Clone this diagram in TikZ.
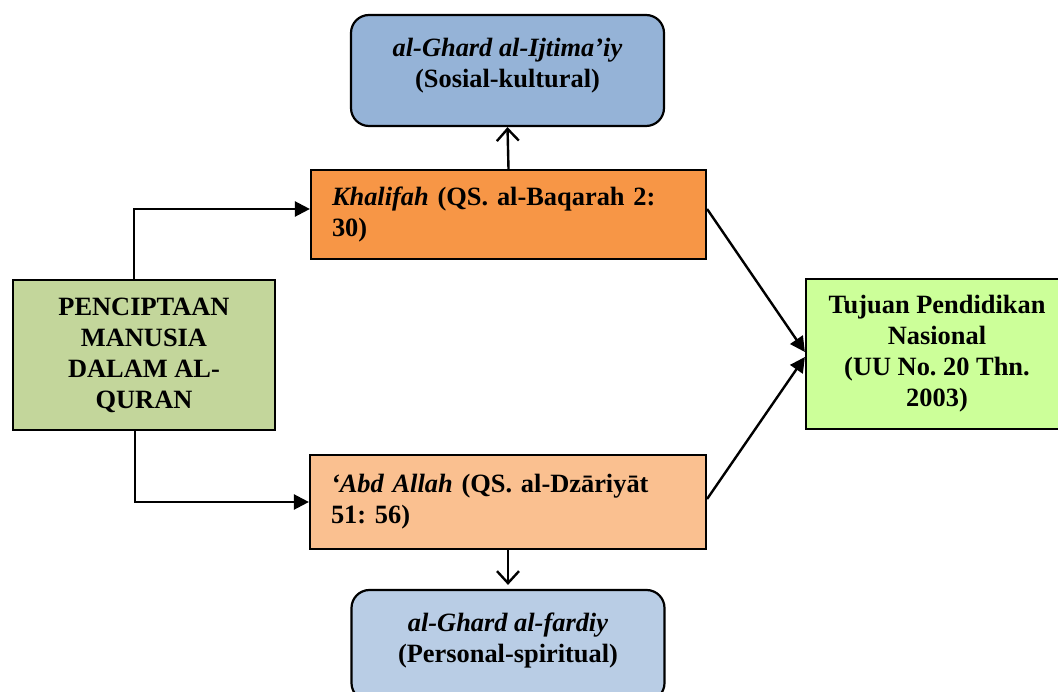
\documentclass[tikz,border=0pt]{standalone}
\usepackage{fontspec}
\setmainfont{Liberation Serif}
\usetikzlibrary{arrows.meta,calc}
\definecolor{cTop}{HTML}{95B3D7}
\definecolor{cKhal}{HTML}{F79646}
\definecolor{cLeft}{HTML}{C3D69B}
\definecolor{cRight}{HTML}{CCFF99}
\definecolor{cAbd}{HTML}{FAC090}
\definecolor{cBot}{HTML}{B9CDE5}
\frenchspacing
\begin{document}
\begin{tikzpicture}[x=1pt,y=-1pt,
  font=\fontsize{26.4}{31}\selectfont\bfseries,
  box/.style={draw=black, line width=2.2pt, inner sep=0pt, align=center},
  roundbox/.style={box, rounded corners=18pt, minimum width=313pt, minimum height=111pt, text depth=16pt},
  leftbox/.style={box, align=left, inner xsep=21pt},
  conn/.style={line width=2.4pt, draw=black},
  tri/.style={conn, -{Triangle[length=15pt,width=15pt]}},
  barb/.style={conn, -{Straight Barb[length=12pt,width=22pt]}}]
\clip (0,0) rectangle (1058,692);
\node[roundbox, fill=cTop] (top) at (507.5,70.5)
  {\textit{al-Ghard al-Ijtima’iy}\\(Sosial-kultural)};
\node[leftbox, fill=cKhal, minimum width=395pt, minimum height=89pt, text width=353pt] (khal) at (508.5,214.5)
  {\textit{Khalifah} (QS. al-Baqarah 2:\\30)};
\node[box, fill=cLeft, minimum width=262pt, minimum height=150pt] (left) at (144,355)
  {PENCIPTAAN\\MANUSIA\\DALAM AL-\\QURAN};
\node[box, fill=cRight, minimum width=262pt, minimum height=150pt] (right) at (937,354)
  {Tujuan Pendidikan\\Nasional\\(UU No. 20 Thn.\\2003)};
\node[leftbox, fill=cAbd, minimum width=396pt, minimum height=94pt, text width=354pt] (abd) at (508,502)
  {\textit{‘Abd Allah} (QS. al-Dzāriyāt\\51: 56)};
\node[roundbox, fill=cBot] (bot) at (508,645.5)
  {\textit{al-Ghard al-fardiy}\\(Personal-spiritual)};
\draw[tri] ([xshift=-10pt]left.north) |- ([yshift=5.5pt]khal.west);
\draw[tri] ([xshift=-9pt]left.south) |- (abd.west);
\draw[barb] (khal.north) -- (top.south);
\draw[barb, shorten >=4pt] (abd.south) -- (bot.north);
\draw[tri] ([yshift=5.5pt]khal.east) -- ([yshift=2pt]right.west);
\draw[tri] ([yshift=3pt]abd.east) -- ([yshift=-3pt]right.west);
\end{tikzpicture}
\end{document}
